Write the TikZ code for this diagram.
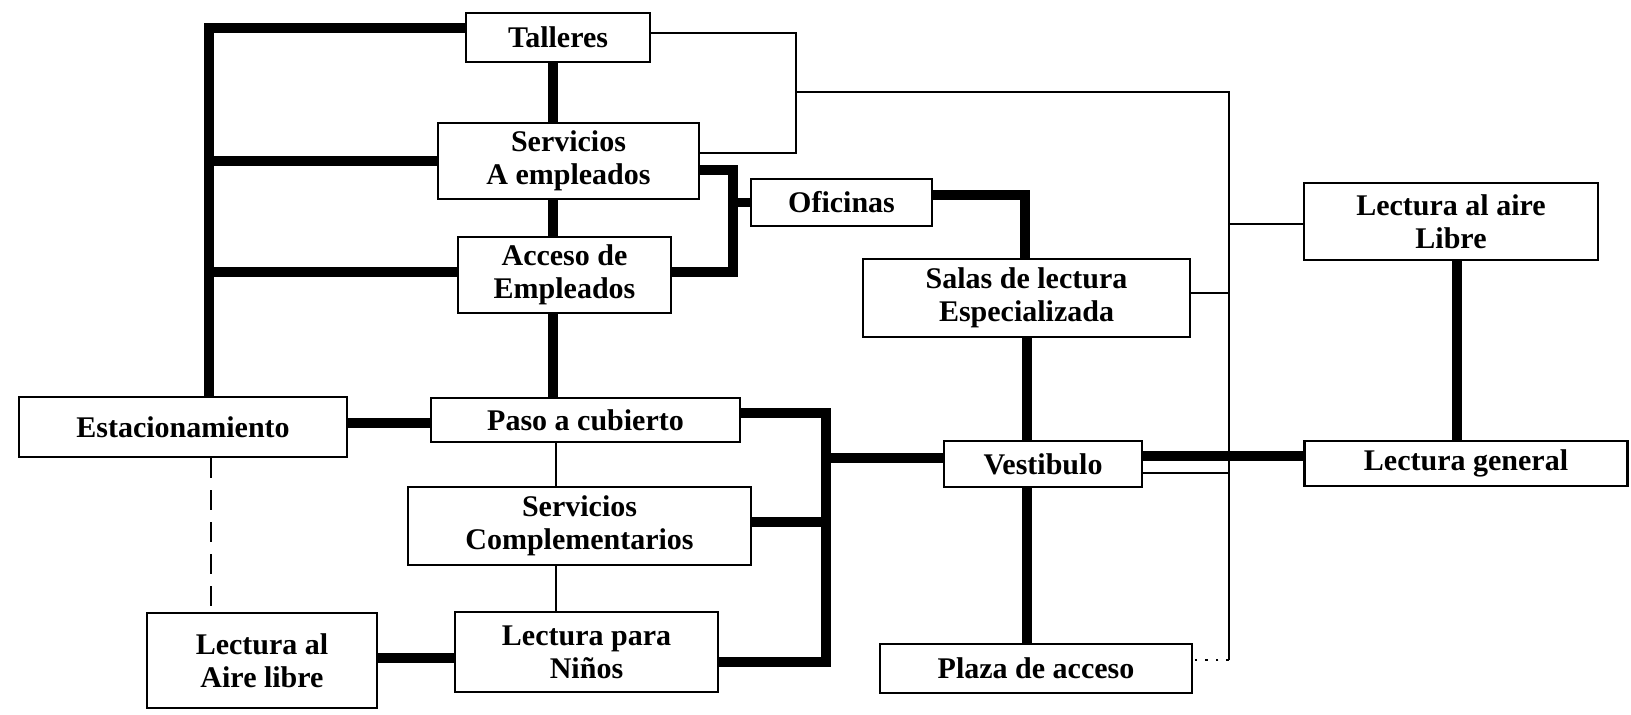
\documentclass[tikz,border=0pt]{standalone}
\usepackage{fontspec}
\setmainfont{Liberation Serif}
\begin{document}
\begin{tikzpicture}[x=0.5pt,y=-0.5pt,
  box/.style={draw, line width=1.1pt, inner sep=0pt, align=center, fill=white,
    font=\fontsize{15}{16.5}\selectfont\bfseries},
  T/.style={line width=4.6pt},
  tn/.style={line width=1.1pt},
  dsh/.style={line width=1.1pt, dash pattern=on 10pt off 6pt},
  dot/.style={line width=1.3pt, dash pattern=on 1.3pt off 4pt}]
\fill[white] (0,0) rectangle (1631,714);
\useasboundingbox (0,0) rectangle (1631,714);

% nodes
\node[box, minimum width=92pt,   minimum height=24.5pt] (tall)   at (558,37.5)   {Talleres};
\node[box, minimum width=130.5pt,minimum height=38pt]   (serva)  at (568.5,161)  {Servicios\\A empleados};
\node[box, minimum width=90.5pt, minimum height=23.5pt] (ofic)   at (841.5,202.5){Oficinas};
\node[box, minimum width=106.5pt,minimum height=38pt]   (acce)   at (564.5,275)  {Acceso de\\Empleados};
\node[box, minimum width=163.5pt,minimum height=39pt]   (salas)  at (1026.5,298) {Salas de lectura\\Especializada};
\node[box, minimum width=147pt,  minimum height=38.5pt] (laire)  at (1451,221.5) {Lectura al aire\\Libre};
\node[box, minimum width=164pt,  minimum height=30pt]   (estac)  at (183,427)    {Estacionamiento};
\node[box, minimum width=154.5pt,minimum height=22pt]   (paso)   at (585.5,420)  {Paso a cubierto};
\node[box, minimum width=99pt,   minimum height=23pt]   (vest)   at (1043,464)   {Vestibulo};
\node[box, minimum width=161.5pt,minimum height=22.5pt] (lgen)   at (1466,463.5) {Lectura general};
\node[box, minimum width=171.5pt,minimum height=39pt]   (servc)  at (579.5,526)  {Servicios\\Complementarios};
\node[box, minimum width=115pt,  minimum height=47.5pt] (laire2) at (262,660.5)  {Lectura al\\Aire libre};
\node[box, minimum width=131.5pt,minimum height=40pt]   (ninos)  at (586.5,652)  {Lectura para\\Niños};
\node[box, minimum width=156pt,  minimum height=24.5pt] (plaza)  at (1036,668.5) {Plaza de acceso};

% helper coordinates
\coordinate (lt) at (209,28);
\coordinate (cx) at (553,0);
\coordinate (j1) at (733,170);
\coordinate (j2) at (733,272);
\coordinate (j3) at (1025,195);
\coordinate (vx) at (1027,0);
\coordinate (p1) at (826,413);
\coordinate (p2) at (826,662);
\coordinate (k1) at (796,33);
\coordinate (k2) at (796,153);
\coordinate (k3) at (796,92);
\coordinate (r1) at (1229,92);
\coordinate (r2) at (1229,660);
\coordinate (lx) at (1457,0);
\coordinate (cy) at (556,0);

% thick connectors
\draw[T] (estac.north -| lt) -- (lt) -- (lt -| tall.west);
\draw[T] (serva.west -| lt) -- (serva.west);
\draw[T] (lt |- 0,272) -- (acce.west |- 0,272);
\draw[T] (tall.south -| cx) -- (serva.north -| cx);
\draw[T] (serva.south -| cx) -- (acce.north -| cx);
\draw[T] (acce.south -| cx) -- (paso.north -| cx);
\draw[T] (j1 -| serva.east) -- (j1) -- (j2) -- (j2 -| acce.east);
\draw[T] (ofic.west -| j1) -- (ofic.west);
\draw[T] (j3 -| ofic.east) -- (j3) -- (j3 |- salas.north);
\draw[T] (salas.south -| vx) -- (vest.north -| vx);
\draw[T] (vest.south -| vx) -- (plaza.north -| vx);
\draw[T] (p1 -| paso.east) -- (p1) -- (p2) -- (p2 -| ninos.east);
\draw[T] (servc.east |- 0,522) -- (826,522);
\draw[T] (826,458) -- (vest.west |- 0,458);
\draw[T] (estac.east |- 0,423) -- (paso.west |- 0,423);
\draw[T] (laire2.east |- 0,658) -- (ninos.west |- 0,658);
\draw[T] (laire.south -| lx) -- (lgen.north -| lx);
\draw[T] (vest.east |- 0,456) -- (lgen.west |- 0,456);

% thin connectors
\draw[tn] (k1 -| tall.east) -- (k1) -- (k2) -- (k2 -| serva.east);
\draw[tn] (k3) -- (r1) -- (r2);
\draw[tn] (r1 |- 0,224) -- (laire.west |- 0,224);
\draw[tn] (salas.east |- 0,293) -- (r1 |- 0,293);
\draw[tn] (vest.east |- 0,473) -- (r1 |- 0,473);
\draw[tn] (paso.south -| cy) -- (servc.north -| cy);
\draw[tn] (servc.south -| cy) -- (ninos.north -| cy);
\draw[dot] (r2) -- (plaza.east |- r2);
\draw[dsh] (estac.south -| 211,0) -- (laire2.north -| 211,0);
\end{tikzpicture}
\end{document}
